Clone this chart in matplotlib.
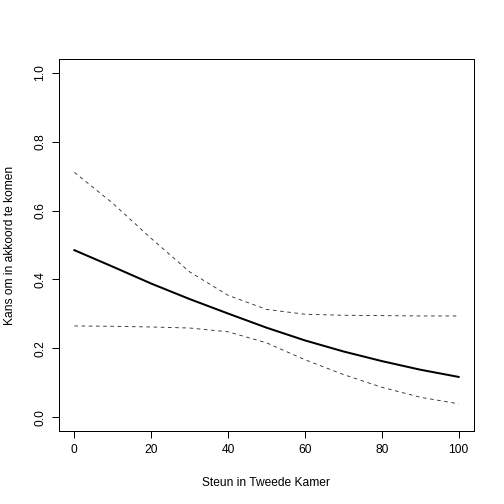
import matplotlib.pyplot as plt

plt.rcParams['font.family'] = ['Liberation Sans', 'DejaVu Sans']

# steun in Tweede Kamer (x) en voorspelde kans met betrouwbaarheidsband
steun = [0, 10, 20, 30, 40, 50, 60, 70, 80, 90, 100]
kans = [0.485, 0.437, 0.388, 0.343, 0.301, 0.260, 0.223, 0.191, 0.163, 0.138, 0.117]
boven = [0.711, 0.621, 0.519, 0.422, 0.354, 0.313, 0.299, 0.296, 0.295, 0.294, 0.294]
onder = [0.265, 0.264, 0.262, 0.259, 0.248, 0.216, 0.167, 0.124, 0.087, 0.058, 0.039]

fig = plt.figure(figsize=(7, 7), dpi=72)
ax = fig.add_axes([59 / 504, 73 / 504, (474 - 59) / 504, (431 - 59) / 504])

ax.plot(steun, kans, color='black', lw=2)
ax.plot(steun, boven, color='#333333', lw=0.9, dashes=(4, 4))
ax.plot(steun, onder, color='#333333', lw=0.9, dashes=(4, 4))

ax.set_xlim(-4, 104)
ax.set_ylim(-0.04, 1.04)
ax.set_xticks([0, 20, 40, 60, 80, 100])
ax.set_yticks([0.0, 0.2, 0.4, 0.6, 0.8, 1.0])
ax.set_yticklabels(['0.0', '0.2', '0.4', '0.6', '0.8', '1.0'], rotation=90, va='center')
ax.tick_params(direction='out', length=7, width=1, labelsize=12, pad=6)
for s in ax.spines.values():
    s.set_linewidth(1)

ax.set_xlabel('Steun in Tweede Kamer', fontsize=12, labelpad=21)
ax.set_ylabel('Kans om in akkoord te komen', fontsize=12, labelpad=18)

fig.savefig('out.png', dpi=72)
